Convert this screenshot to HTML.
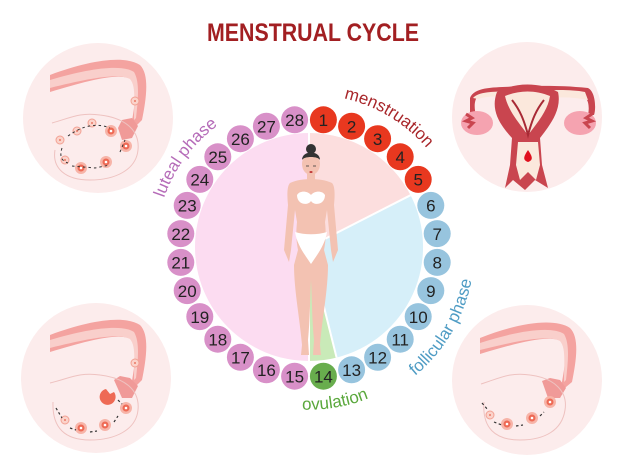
<!DOCTYPE html>
<html><head><meta charset="utf-8"><style>
html,body{margin:0;padding:0;background:#fff;}
svg{display:block;font-family:"Liberation Sans",sans-serif;}
</style></head><body>
<svg width="626" height="470" viewBox="0 0 626 470" xmlns="http://www.w3.org/2000/svg">
<defs>
<path id="pm" d="M330,96 A152,152 0 0 1 445,175"/>
<path id="pl" d="M164,198 A152,152 0 0 1 259,104"/>
<path id="pf" d="M415,376 A165,165 0 0 0 474,236"/>
<path id="po" d="M266,404 A163,163 0 0 0 401,381"/>
<g id="fol"><circle r="6" fill="#f7b4a8"/><circle r="3.5" fill="#ee6a55"/><circle r="1.3" fill="#fff"/></g>
<g id="fols"><circle r="4" fill="#fbd3cb" stroke="#f2a193" stroke-width="1"/><circle r="1" fill="#e97a66"/></g>
</defs>

<circle cx="98" cy="118" r="75" fill="#fcecec"/>
<circle cx="527" cy="117" r="75" fill="#fcecec"/>
<circle cx="96" cy="378" r="75" fill="#fcecec"/>
<circle cx="527" cy="380" r="75" fill="#fcecec"/>

<g>
<path d="M50,75 C90,60 125,55 140,65 C150,75 146,100 142,120 L130,132 C134,110 138,88 133,80 C120,72 90,80 50,92 Z" fill="#f4a3a0"/>
<path d="M50,80 C90,68 122,64 134,72 C140,82 138,100 136,118 L134,120 C134,100 136,86 130,79 C118,73 90,78 50,88 Z" fill="#f9cfcb"/>
<path d="M118,128 L122,120 L132,118 L138,126 L132,138 L122,140 Z" fill="#f09a98"/>
<path d="M52,123 C70,118 80,112 100,115 C125,118 140,130 138,150 C136,170 115,180 90,180 C65,180 52,168 55,150" fill="none" stroke="#eec2c0" stroke-width="1"/>
<use href="#fols" x="135" y="101"/>
<use href="#fols" x="92" y="123"/>
<use href="#fols" x="77" y="131"/>
<use href="#fols" x="60" y="140"/>
<use href="#fol" x="111" y="131"/>
<use href="#fol" x="126" y="146"/>
<use href="#fol" x="106" y="162"/>
<use href="#fol" x="81" y="168"/>
<use href="#fols" x="65" y="160"/>
<path d="M68,136 Q90,120 110,128 M62,148 Q58,160 68,163 M72,166 L95,168 L110,165 M120,152 L125,140" fill="none" stroke="#333" stroke-width="1" stroke-dasharray="2.5,3"/>
</g>

<g>
<path d="M50,335 C90,320 125,315 140,325 C150,335 146,360 142,380 L130,392 C134,370 138,348 133,340 C120,332 90,340 50,352 Z" fill="#f4a3a0"/>
<path d="M50,340 C90,328 122,324 134,332 C140,342 138,360 136,378 L134,380 C134,360 136,346 130,339 C118,333 90,338 50,348 Z" fill="#f9cfcb"/>
<path d="M114,380 L120,376 L130,378 L138,386 L132,398 L122,398 Z" fill="#f09a98"/>
<path d="M50,383 C70,378 80,372 100,375 C125,378 140,390 138,410 C136,430 115,440 90,440 C65,440 52,428 53,402" fill="none" stroke="#eec2c0" stroke-width="1"/>
<use href="#fols" x="135" y="363"/>
<path d="M106,389 a8,8 0 1 0 8,3 l-4,2 z" fill="#ee6a55"/>
<use href="#fol" x="126" y="408"/>
<use href="#fol" x="105" y="425"/>
<use href="#fol" x="81" y="428"/>
<use href="#fols" x="65" y="420"/>
<path d="M56,408 L62,418 M70,428 L76,430 M90,432 L97,431 M114,422 L118,416 M118,400 L122,404" fill="none" stroke="#333" stroke-width="1.2" stroke-dasharray="2.5,2.5"/>
</g>

<g>
<path d="M480,338 C520,322 555,318 570,328 C580,338 576,362 572,382 L560,392 C564,372 568,350 563,342 C550,334 520,342 480,354 Z" fill="#f4a3a0"/>
<path d="M480,343 C520,330 552,326 564,334 C570,344 568,362 566,380 L564,382 C564,362 566,348 560,341 C548,335 520,340 480,350 Z" fill="#f9cfcb"/>
<path d="M542,381 L550,378 L560,380 L566,388 L560,398 L548,398 Z" fill="#f09a98"/>
<path d="M481,384 C500,378 510,372 530,375 C555,378 568,392 565,410 C562,430 545,440 520,440 C495,440 482,428 484,402" fill="none" stroke="#eec2c0" stroke-width="1"/>
<use href="#fol" x="550" y="402"/>
<use href="#fol" x="532" y="418"/>
<use href="#fol" x="507" y="424"/>
<use href="#fols" x="490" y="415"/>
<path d="M482,403 L488,410 M494,422 L502,425 M516,426 L523,425 M540,416 L544,412" fill="none" stroke="#333" stroke-width="1.2" stroke-dasharray="2.5,2.5"/>
</g>

<g>
<path d="M470,98 C475,85 500,88 520,86 C540,86 560,85 588,88 C596,92 596,110 594,115 L588,115 C590,105 588,96 580,95 C560,93 545,95 530,100 L520,100 C505,95 490,93 478,96 C474,100 474,108 476,115 L470,115 Z" fill="#c9454f"/>
<path d="M473,98 C480,90 500,92 520,91 L530,91 C550,90 570,89 585,92 L588,100 C570,96 550,97 530,100 L520,100 C505,96 490,95 478,99 Z" fill="#fbe8dc"/>
<ellipse cx="477" cy="123" rx="16" ry="12" fill="#f5a3b0"/>
<ellipse cx="580" cy="123" rx="16" ry="12" fill="#f5a3b0"/>
<path d="M466,114 l6,4 l-6,3 l7,2 l-5,5" stroke="#c9454f" stroke-width="3" fill="none"/>
<path d="M592,114 l-6,4 l6,3 l-7,2 l5,5" stroke="#c9454f" stroke-width="3" fill="none"/>
<path d="M497,92 C515,82 540,82 558,92 C562,110 550,125 540,138 L542,165 L548,188 L535,180 L525,190 L513,180 L505,188 L510,165 L512,138 C500,125 490,110 497,92 Z" fill="#c9454f"/>
<path d="M505,96 C520,90 535,90 550,96 C548,110 538,122 528,135 C518,122 508,110 505,96 Z" fill="#fbe8dc"/>
<path d="M512,100 C520,110 524,120 528,135 C532,120 536,110 544,100" stroke="#a82a35" stroke-width="2" fill="none"/>
<path d="M518,142 L538,142 L540,165 L536,180 L528,172 L520,180 L516,165 Z" fill="#fbe8dc"/>
<path d="M528,150 C524,156 522,160 528,162 C534,160 532,156 528,150 Z" fill="#e0101e"/>
</g>

<text x="313" y="41" text-anchor="middle" font-size="25" font-weight="bold" fill="#a21f22" textLength="212" lengthAdjust="spacingAndGlyphs">MENSTRUAL CYCLE</text>

<path d="M309,247 L309,133 A114,114 0 0 1 410.6,195.2 Z" fill="#fcdede"/>
<path d="M309,247 L410.6,195.2 A114,114 0 0 1 336.6,357.6 Z" fill="#d6eff9"/>
<path d="M309,247 L336.6,357.6 A114,114 0 0 1 309,361 Z" fill="#c9eab8"/>
<path d="M309,247 L309,361 A114,114 0 1 1 309,133 Z" fill="#fcdcf1"/>
<path d="M309,133 L309,247 L410.6,195.2 M309,247 L336.6,357.6 M309,247 L309,361" stroke="#fff" stroke-width="2" fill="none"/>

<g fill="#f3c2b2">
<circle cx="311" cy="149" r="5" fill="#333"/>
<ellipse cx="311" cy="164" rx="9" ry="11"/>
<path d="M302,160 C302,150 320,150 320,160 C318,156 304,156 302,160 Z" fill="#333"/>
<rect x="307" y="173" width="8" height="8"/>
<path d="M290,183 C296,180 305,179 311,179 C317,179 326,180 332,183 C335,186 335,195 334,205 L338,250 L333,262 L331,250 L327,210 L325,222 C326,232 326,240 324,250 L328,265 C328,290 322,320 320,345 L321,355 L313,355 L314,340 C312,320 312,300 311,280 C310,300 310,320 308,340 L309,355 L301,355 L302,345 C300,320 294,290 294,265 L298,250 C296,240 296,232 297,222 L295,210 L291,250 L289,262 L284,250 L288,205 C287,195 287,186 290,183 Z"/>
</g>
<path d="M297,195 C300,190 308,191 311,195 C314,191 322,190 325,195 C325,205 314,206 311,201 C308,206 297,205 297,195 Z" fill="#fff"/>
<path d="M295,232 C305,235 317,235 327,232 C325,245 317,255 311,264 C305,255 297,245 295,232 Z" fill="#fff"/>
<path d="M306,166 h3 M313,166 h3" stroke="#333" stroke-width="0.8"/>
<ellipse cx="311" cy="172" rx="1.6" ry="1" fill="#c23a3a"/>

<g font-size="17" fill="#222" text-anchor="middle">
<g fill="#e8381f"><circle cx="323.4" cy="119.8" r="13.5"/><circle cx="351.6" cy="126.2" r="13.5"/><circle cx="377.6" cy="138.7" r="13.5"/><circle cx="400.2" cy="156.8" r="13.5"/><circle cx="418.2" cy="179.4" r="13.5"/></g>
<g fill="#97c4de"><circle cx="430.8" cy="205.4" r="13.5"/><circle cx="437.2" cy="233.6" r="13.5"/><circle cx="437.2" cy="262.4" r="13.5"/><circle cx="430.8" cy="290.6" r="13.5"/><circle cx="418.2" cy="316.6" r="13.5"/><circle cx="400.2" cy="339.2" r="13.5"/><circle cx="377.6" cy="357.3" r="13.5"/><circle cx="351.6" cy="369.8" r="13.5"/></g>
<circle cx="323.4" cy="376.2" r="13.5" fill="#68ad4d"/>
<g fill="#d890c8"><circle cx="294.6" cy="376.2" r="13.5"/><circle cx="266.4" cy="369.8" r="13.5"/><circle cx="240.4" cy="357.3" r="13.5"/><circle cx="217.8" cy="339.2" r="13.5"/><circle cx="199.8" cy="316.6" r="13.5"/><circle cx="187.2" cy="290.6" r="13.5"/><circle cx="180.8" cy="262.4" r="13.5"/><circle cx="180.8" cy="233.6" r="13.5"/><circle cx="187.2" cy="205.4" r="13.5"/><circle cx="199.8" cy="179.4" r="13.5"/><circle cx="217.8" cy="156.8" r="13.5"/><circle cx="240.4" cy="138.7" r="13.5"/><circle cx="266.4" cy="126.2" r="13.5"/><circle cx="294.6" cy="119.8" r="13.5"/></g>
<text x="323.4" y="126">1</text><text x="351.6" y="132.4">2</text><text x="377.6" y="144.9">3</text><text x="400.2" y="163">4</text><text x="418.2" y="185.6">5</text>
<text x="430.8" y="211.6">6</text><text x="437.2" y="239.8">7</text><text x="437.2" y="268.6">8</text><text x="430.8" y="296.8">9</text><text x="418.2" y="322.8">10</text><text x="400.2" y="345.4">11</text><text x="377.6" y="363.5">12</text><text x="351.6" y="376">13</text><text x="323.4" y="382.4">14</text>
<text x="294.6" y="382.4">15</text><text x="266.4" y="376">16</text><text x="240.4" y="363.5">17</text><text x="217.8" y="345.4">18</text><text x="199.8" y="322.8">19</text><text x="187.2" y="296.8">20</text><text x="180.8" y="268.6">21</text><text x="180.8" y="239.8">22</text><text x="187.2" y="211.6">23</text><text x="199.8" y="185.6">24</text><text x="217.8" y="163">25</text><text x="240.4" y="144.9">26</text><text x="266.4" y="132.4">27</text><text x="294.6" y="126">28</text>
</g>

<text font-size="17" fill="#a8262a"><textPath href="#pm" startOffset="14">menstruation</textPath></text>
<text font-size="17" fill="#b56bb8"><textPath href="#pl">luteal phase</textPath></text>
<text font-size="17" fill="#4f9cc4"><textPath href="#pf">follicular phase</textPath></text>
<text font-size="17" fill="#5aa83c"><textPath href="#po" startOffset="50%" text-anchor="middle">ovulation</textPath></text>
</svg>
</body></html>
